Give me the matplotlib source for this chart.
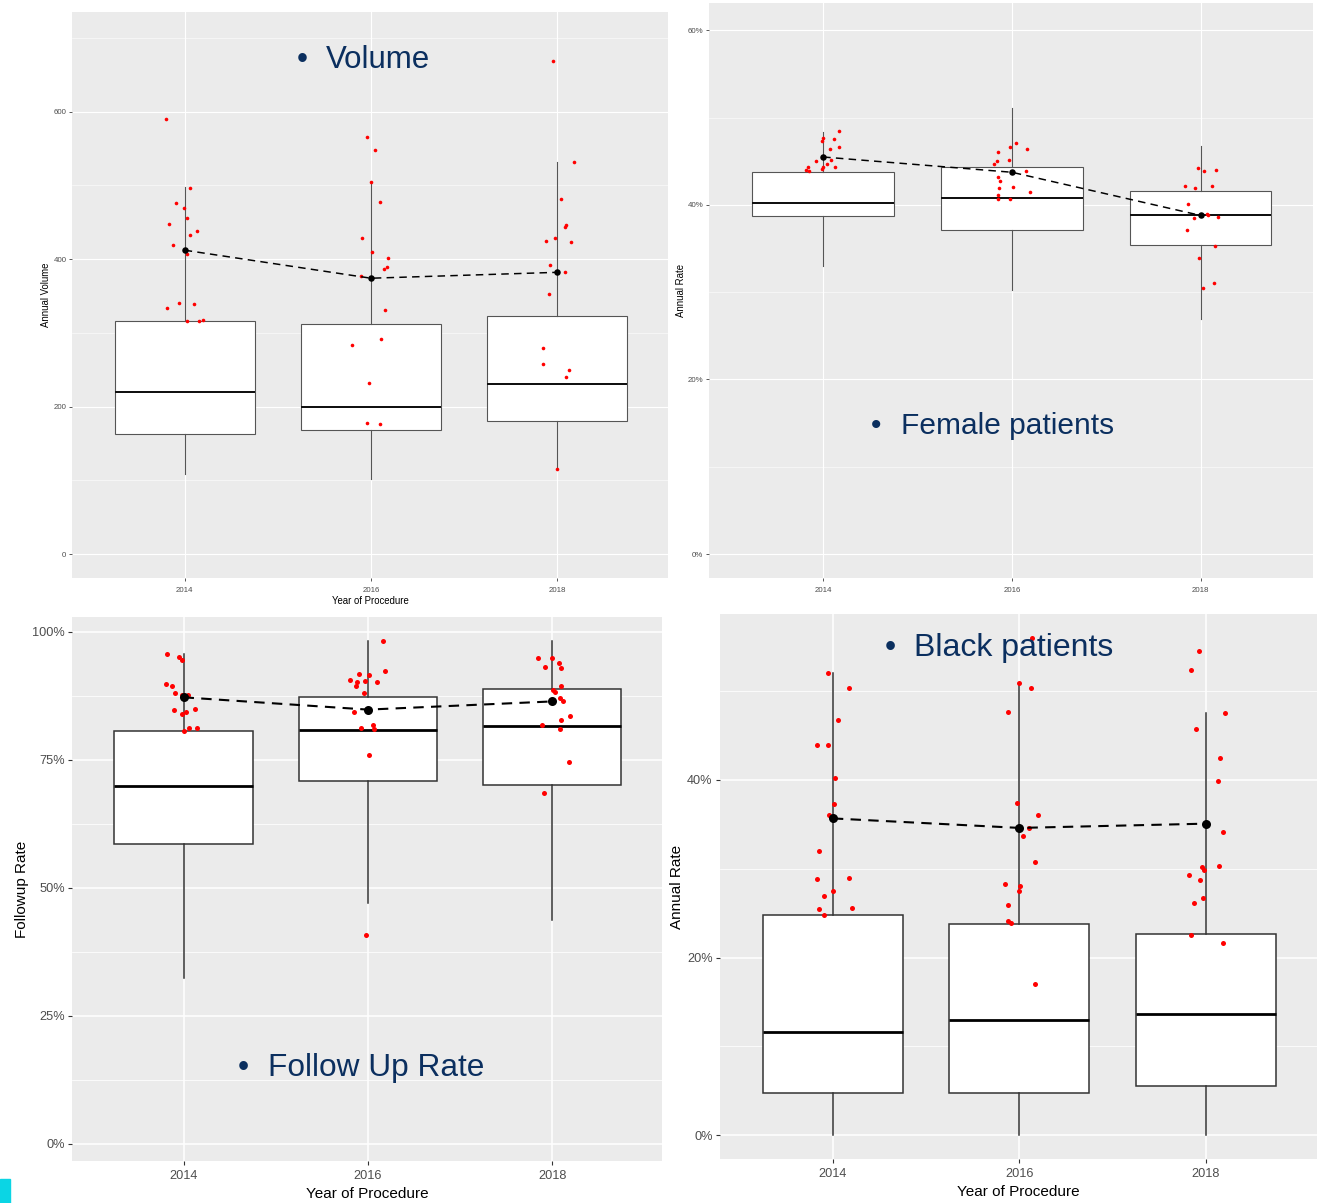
import numpy as np
import matplotlib
matplotlib.use("Agg")
import matplotlib.pyplot as plt
from matplotlib.ticker import FuncFormatter

plt.rcParams['font.family'] = ['Liberation Sans', 'DejaVu Sans']

years = [2014, 2016, 2018]

# Volume
vol_q1 = [163, 168, 180]
vol_med = [220, 199, 231]
vol_q3 = [316, 312, 323]
vol_lo = [108, 102, 115]
vol_hi = [498, 505, 531]
vol_mean = [412, 374, 382]
vol_pts = [
    [590, 497, 476, 469, 456, 448, 438, 432, 419, 407, 334, 340, 339, 316, 316, 318],
    [565, 548, 504, 477, 428, 409, 401, 387, 389, 377, 331, 291, 283, 232, 178, 177],
    [668, 531, 481, 444, 446, 424, 429, 423, 392, 382, 352, 279, 258, 249, 240, 115],
]
vol_jit = [
    [-0.20, 0.06, -0.09, -0.01, 0.02, -0.17, 0.13, 0.06, -0.13, 0.02, -0.19, -0.06, 0.10, 0.03, 0.15, 0.20],
    [-0.04, 0.04, 0.0, 0.10, -0.10, 0.01, 0.18, 0.14, 0.17, -0.11, 0.15, 0.11, -0.20, -0.02, -0.04, 0.10],
    [-0.04, 0.18, 0.04, 0.08, 0.10, -0.12, -0.02, 0.15, -0.08, 0.08, -0.09, -0.15, -0.15, 0.13, 0.10, 0.0],
]

# Female patients (%)
fem_q1 = [38.7, 37.1, 35.4]
fem_med = [40.2, 40.8, 38.9]
fem_q3 = [43.75, 44.35, 41.6]
fem_lo = [33.0, 30.3, 26.9]
fem_hi = [48.4, 51.1, 46.8]
fem_mean = [45.5, 43.75, 38.8]
fem_pts = [
    [48.45, 47.7, 47.3, 47.6, 46.4, 46.65, 45.2, 45.0, 44.7, 44.4, 44.4, 44.1, 44.3, 44.0, 43.9],
    [47.05, 46.65, 46.45, 46.1, 45.1, 45.04, 44.7, 43.9, 43.24, 42.8, 41.95, 42.1, 41.5, 41.18, 40.69, 40.7],
    [44.2, 43.9, 44.05, 42.2, 41.95, 42.2, 40.1, 39.0, 38.8, 38.5, 38.66, 37.1, 35.27, 33.96, 31.1, 30.5],
]
fem_jit = [
    [0.17, 0.0, -0.01, 0.11, 0.07, 0.17, 0.08, -0.08, 0.04, 0.12, 0.0, -0.01, -0.16, -0.18, -0.15],
    [0.04, -0.02, 0.16, -0.15, -0.03, -0.16, -0.19, 0.15, -0.15, -0.13, -0.14, 0.01, 0.19, -0.15, -0.15, -0.02],
    [-0.03, 0.04, 0.16, -0.17, -0.06, 0.12, -0.13, 0.07, 0.08, -0.07, 0.18, -0.14, 0.15, -0.02, 0.14, 0.02],
]

# Follow up rate (%)
fup_q1 = [58.5, 70.9, 70.0]
fup_med = [69.8, 80.9, 81.6]
fup_q3 = [80.7, 87.2, 88.8]
fup_lo = [32.4, 47.0, 43.75]
fup_hi = [95.6, 98.3, 98.3]
fup_mean = [87.2, 84.8, 86.4]
fup_pts = [
    [95.6, 95.0, 94.45, 89.9, 89.5, 88.1, 87.7, 87.7, 84.7, 85.0, 83.9, 84.4, 80.7, 81.3, 81.3],
    [98.3, 92.4, 90.6, 91.75, 91.5, 90.1, 89.5, 90.4, 90.15, 88.0, 84.4, 81.15, 81.8, 81.1, 75.9, 40.8],
    [94.8, 94.8, 93.1, 94.0, 93.0, 89.5, 88.7, 88.25, 87.0, 86.5, 83.6, 82.8, 81.7, 81.1, 74.6, 68.5],
]
fup_jit = [
    [-0.18, -0.05, -0.02, -0.19, -0.13, -0.09, -0.02, 0.05, -0.10, 0.12, -0.02, 0.03, 0.01, 0.06, 0.15],
    [0.16, 0.19, -0.19, -0.10, 0.01, -0.12, -0.13, -0.03, 0.10, -0.04, -0.15, -0.07, 0.05, 0.07, 0.01, -0.02],
    [-0.15, 0.0, -0.08, 0.07, 0.09, 0.09, 0.01, 0.03, 0.08, 0.12, 0.19, 0.09, -0.11, 0.08, 0.18, -0.09],
]

# Black patients (%)
blk_q1 = [4.77, 4.77, 5.48]
blk_med = [11.63, 12.93, 13.65]
blk_q3 = [24.77, 23.8, 22.6]
blk_lo = [0, 0, 0]
blk_hi = [52.1, 50.9, 47.6]
blk_mean = [35.67, 34.6, 35.08]
blk_pts = [
    [52.1, 50.4, 46.8, 43.9, 43.9, 40.26, 37.3, 36.1, 32.0, 28.85, 28.98, 27.46, 26.95, 25.44, 25.57, 24.77],
    [56.05, 50.9, 50.4, 47.7, 37.44, 36.06, 34.6, 33.7, 30.74, 28.3, 28.05, 27.46, 25.94, 24.09, 23.84, 17.0],
    [54.5, 52.35, 47.55, 45.8, 42.5, 39.9, 34.15, 30.15, 29.9, 30.28, 29.3, 28.76, 26.66, 26.15, 22.5, 21.6],
]
blk_jit = [
    [-0.05, 0.17, 0.05, -0.17, -0.05, 0.02, 0.01, -0.04, -0.15, -0.17, 0.17, 0.0, -0.09, -0.15, 0.20, -0.10],
    [0.13, 0.0, 0.12, -0.12, -0.03, 0.20, 0.10, 0.04, 0.17, -0.15, 0.01, 0.0, -0.12, -0.12, -0.09, 0.17],
    [-0.07, -0.16, 0.20, -0.11, 0.15, 0.13, 0.18, -0.04, -0.02, 0.14, -0.18, -0.06, -0.03, -0.13, -0.16, 0.18],
]

W, H = 1320, 1203
fig = plt.figure(figsize=(W / 100, H / 100), dpi=100)
NAVY = '#0b2f5f'


def px_axes(x0, y0, x1, y1):
    return fig.add_axes([x0 / W, 1 - y1 / H, (x1 - x0) / W, (y1 - y0) / H])


def panel(ax, q1, med, q3, lo, hi, mean, pts, jit, ylim, major, minor, pct,
          small, ylabel, xlabel):
    s = 0.72 if small else 1.0
    ax.set_facecolor('#EBEBEB')
    for sp in ax.spines.values():
        sp.set_visible(False)
    edge = '#555555' if small else '#333333'
    stats = [dict(q1=a, med=b, q3=c, whislo=d, whishi=e, fliers=[])
             for a, b, c, d, e in zip(q1, med, q3, lo, hi)]
    ax.bxp(stats, positions=years, widths=1.5, showcaps=False, showfliers=False,
           patch_artist=True,
           boxprops=dict(facecolor='white', edgecolor=edge, linewidth=1.1 * s),
           whiskerprops=dict(color=edge, linewidth=1.1 * s),
           medianprops=dict(color='#111111' if small else 'black', linewidth=2.0 * s),
           zorder=2)
    for yr, p, j in zip(years, pts, jit):
        ax.scatter(np.array(j) + yr, p, s=(3.6 * s) ** 2, color='red',
                   linewidths=0, zorder=3)
    ax.plot(years, mean, color='black', linestyle=(0, (5, 3.5)),
            linewidth=1.5 * s, zorder=4)
    ax.scatter(years, mean, s=(6.5 * s) ** 2, color='black', linewidths=0, zorder=5)

    ax.set_xlim(2012.79, 2019.19)
    ax.set_ylim(*ylim)
    ax.set_xticks(years)
    ax.set_yticks(major)
    ax.set_yticks(minor, minor=True)
    ax.grid(True, which='major', color='white', linewidth=1.1 * s, zorder=0)
    ax.grid(True, which='minor', axis='y', color='white', linewidth=0.55 * s, zorder=0)
    ax.set_axisbelow(True)
    if pct:
        ax.yaxis.set_major_formatter(FuncFormatter(lambda v, _: f"{v:.0f}%"))
    ax.tick_params(which='major', length=2.75 * s, width=0.8 * s, color='#333333',
                   labelsize=9.2 * s * (0.85 if small else 1.0), labelcolor='#4D4D4D')
    ax.tick_params(axis='x', pad=4.2 if small else 4.0)
    ax.tick_params(axis='y', pad=2.0 if small else 2.5)
    ax.tick_params(which='minor', length=0)
    fs = 11 * (0.63 if small else 1.0)
    ax.set_ylabel(ylabel, fontsize=fs, color='black', labelpad=1.5 if small else 2.0)
    if xlabel:
        ax.set_xlabel(xlabel, fontsize=fs, color='black', labelpad=1.5 if small else 3.2)


def title(xb, xt, yc, text, size):
    fig.text(xb / W, 1 - yc / H, '\u2022', fontsize=size, color=NAVY,
             ha='center', va='center')
    fig.text(xt / W, 1 - yc / H, text, fontsize=size, color=NAVY,
             ha='left', va='center')


ax1 = px_axes(72, 12, 668, 578)
panel(ax1, vol_q1, vol_med, vol_q3, vol_lo, vol_hi, vol_mean, vol_pts, vol_jit,
      (-32.5, 735), [0, 200, 400, 600], [100, 300, 500, 700], False, True,
      'Annual Volume', 'Year of Procedure')

ax2 = px_axes(709, 3, 1313, 578)
panel(ax2, fem_q1, fem_med, fem_q3, fem_lo, fem_hi, fem_mean, fem_pts, fem_jit,
      (-2.75, 63.15), [0, 20, 40, 60], [10, 30, 50], True, True,
      'Annual Rate', None)

ax3 = px_axes(72, 617, 662, 1161)
panel(ax3, fup_q1, fup_med, fup_q3, fup_lo, fup_hi, fup_mean, fup_pts, fup_jit,
      (-3.42, 102.9), [0, 25, 50, 75, 100], [12.5, 37.5, 62.5, 87.5], True, False,
      'Followup Rate', 'Year of Procedure')

ax4 = px_axes(720, 614, 1317, 1159)
panel(ax4, blk_q1, blk_med, blk_q3, blk_lo, blk_hi, blk_mean, blk_pts, blk_jit,
      (-2.7, 58.7), [0, 20, 40], [10, 30, 50], True, False,
      'Annual Rate', 'Year of Procedure')

title(302, 326, 60, 'Volume', 22.5)
title(876, 901, 426, 'Female patients', 21.5)
title(243, 268, 1068, 'Follow Up Rate', 22.8)
title(890, 914, 648, 'Black patients', 23)

fig.patches.append(plt.Rectangle((0, 0), 10 / W, 24 / H, transform=fig.transFigure,
                                 color='#0bd5e4', zorder=10))

fig.savefig('out.png', dpi=100)
